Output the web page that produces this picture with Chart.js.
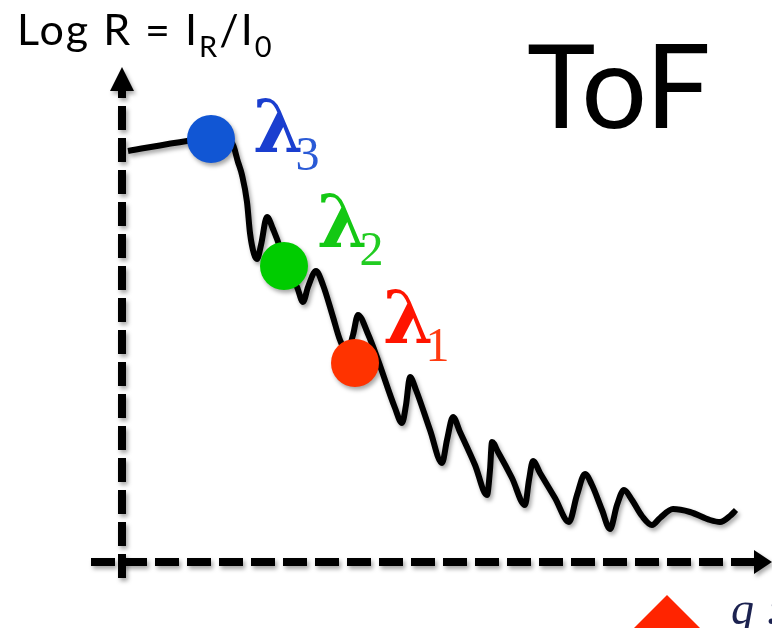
<!DOCTYPE html>
<html>
<head>
<meta charset="utf-8">
<script src="https://cdn.jsdelivr.net/npm/chart.js@4/dist/chart.umd.min.js"></script>
<style>
  html, body { margin: 0; padding: 0; background: #ffffff; }
  #wrap { width: 772px; height: 628px; position: relative; }
  canvas { display: block; }
</style>
</head>
<body>
<div id="wrap"><canvas id="c" width="772" height="628"></canvas></div>
<script>
// Reflectivity curve: momentum transfer q vs log R (arbitrary units)
const qValues = [
  0.06, 0.65, 0.89, 1.10, 1.16, 1.20, 1.25, 1.28, 1.32, 1.35,
  1.39, 1.45, 1.51, 1.58, 1.62, 1.75, 1.81, 1.86, 1.94, 2.01,
  2.11, 2.18, 2.25, 2.31, 2.36, 2.46, 2.56, 2.73, 2.80, 2.84,
  2.88, 2.94, 3.08, 3.20, 3.25, 3.31, 3.38, 3.53, 3.65, 3.68,
  3.70, 3.76, 3.90, 4.03, 4.07, 4.11, 4.18, 4.33, 4.47, 4.55,
  4.63, 4.70, 4.80, 4.88, 4.95, 5.02, 5.10, 5.20, 5.30, 5.38,
  5.51, 5.68, 5.88, 5.98, 6.08, 6.14
];
const logR = [
  4.11, 4.21, 4.24, 4.19, 4.00, 3.87, 3.60, 3.29, 3.08, 3.03,
  3.17, 3.45, 3.33, 3.14, 2.96, 2.75, 2.60, 2.75, 2.91, 2.77,
  2.45, 2.22, 2.10, 2.27, 2.47, 2.28, 2.02, 1.54, 1.39, 1.57,
  1.85, 1.72, 1.32, 0.99, 1.22, 1.45, 1.30, 0.97, 0.67, 0.92,
  1.20, 1.10, 0.84, 0.57, 0.82, 1.01, 0.89, 0.64, 0.40, 0.67,
  0.88, 0.77, 0.52, 0.33, 0.57, 0.72, 0.62, 0.46, 0.37, 0.44,
  0.53, 0.50, 0.42, 0.40, 0.46, 0.52
];

// Wavelength markers on the curve
const markerNames = ['λ3', 'λ2', 'λ1'];
const markerSub = ['3', '2', '1'];
const markerQ = [0.89, 1.62, 2.33];
const markerLogR = [4.23, 2.96, 1.99];

const yAxisTitle = 'Log R = I_R/I_0';
const modeTitle = 'ToF';
const xAxisTitle = 'q :';

const curvePoints = qValues.map((q, i) => ({ x: q, y: logR[i] }));
const markerPoints = markerQ.map((q, i) => ({ x: q, y: markerLogR[i] }));

const dotColors = ['#1156d4', '#00cc00', '#ff3300'];
const labelColors = ['#1a3ecf', '#14c814', '#ff1400'];
const subColors = ['#2a5ad6', '#22cc22', '#ff3a10'];
// label placement relative to each marker (pixels)
const labelOffsets = [[42, 13], [33, -19], [28, -20]];

function dashedArrow(ctx, x0, y0, x1, y1, head) {
  ctx.save();
  ctx.strokeStyle = '#000';
  ctx.fillStyle = '#000';
  ctx.lineWidth = 8;
  ctx.lineCap = 'butt';
  ctx.setLineDash([24, 8]);
  const dx = x1 - x0, dy = y1 - y0;
  const len = Math.hypot(dx, dy);
  const ux = dx / len, uy = dy / len;
  ctx.beginPath();
  ctx.moveTo(x0, y0);
  ctx.lineTo(x1 - ux * head, y1 - uy * head);
  ctx.stroke();
  ctx.setLineDash([]);
  const bx = x1 - ux * (head + 1), by = y1 - uy * (head + 1);
  const px = -uy, py = ux;
  ctx.beginPath();
  ctx.moveTo(x1, y1);
  ctx.lineTo(bx + px * 12, by + py * 12);
  ctx.lineTo(bx - px * 12, by - py * 12);
  ctx.closePath();
  ctx.fill();
  ctx.restore();
}

function setShadow(ctx) {
  ctx.shadowColor = 'rgba(0,0,0,0.35)';
  ctx.shadowBlur = 4;
  ctx.shadowOffsetX = 2;
  ctx.shadowOffsetY = 3;
}

const schematic = {
  id: 'schematic',
  beforeDatasetsDraw(chart) {
    const ctx = chart.ctx;
    const xs = chart.scales.x, ys = chart.scales.y;
    const ox = xs.getPixelForValue(0);
    const oy = ys.getPixelForValue(0);
    ctx.save();
    setShadow(ctx);
    // vertical axis (log R)
    dashedArrow(ctx, ox, oy + 16, ox, 67, 23);
    // horizontal axis (q)
    dashedArrow(ctx, ox - 31, oy, chart.width, oy, 17);
    ctx.restore();
  },
  beforeDatasetDraw(chart) {
    chart.ctx.save();
    setShadow(chart.ctx);
  },
  afterDatasetDraw(chart) {
    chart.ctx.restore();
  },
  afterDatasetsDraw(chart) {
    const ctx = chart.ctx;
    const xs = chart.scales.x, ys = chart.scales.y;
    ctx.save();
    ctx.textBaseline = 'alphabetic';
    ctx.textAlign = 'left';

    // wavelength labels
    markerPoints.forEach((p, i) => {
      const px = xs.getPixelForValue(p.x) + labelOffsets[i][0];
      const py = ys.getPixelForValue(p.y) + labelOffsets[i][1];
      ctx.fillStyle = labelColors[i];
      ctx.font = 'bold 72px "DejaVu Serif"';
      ctx.fillText(markerNames[i].charAt(0), px, py);
      const w = ctx.measureText(markerNames[i].charAt(0)).width;
      ctx.fillStyle = subColors[i];
      ctx.font = '48px "Liberation Serif"';
      ctx.fillText(markerSub[i], px + w - 8, py + 18);
    });

    // y-axis title with subscripts
    ctx.fillStyle = '#000';
    ctx.letterSpacing = '2px';
    const parts = yAxisTitle.split(/(_[A-Za-z0-9])/).filter(s => s.length);
    let x = 17;
    parts.forEach(s => {
      if (s.charAt(0) === '_') {
        ctx.font = '29px Lato';
        ctx.fillText(s.slice(1), x, 57);
        x += ctx.measureText(s.slice(1)).width;
      } else {
        ctx.font = '43px Lato';
        ctx.fillText(s, x, 45);
        x += ctx.measureText(s).width;
      }
    });
    ctx.letterSpacing = '0px';

    // mode title
    ctx.font = '116px Lato';
    ctx.fillText(modeTitle, 527, 128);

    // q marker triangle and label at the lower edge
    ctx.fillStyle = '#ff2400';
    ctx.beginPath();
    ctx.moveTo(667, 595);
    ctx.lineTo(707, 635);
    ctx.lineTo(627, 635);
    ctx.closePath();
    ctx.fill();
    ctx.fillStyle = '#1c2250';
    ctx.font = 'italic 46px "Liberation Serif"';
    ctx.fillText(xAxisTitle, 731, 624);
    ctx.restore();
  }
};

new Chart(document.getElementById('c'), {
  type: 'line',
  data: {
    datasets: [
      {
        data: markerPoints,
        showLine: false,
        pointRadius: 24,
        pointBorderWidth: 0,
        pointBackgroundColor: dotColors,
        pointBorderColor: dotColors,
        clip: false,
        order: 0
      },
      {
        data: curvePoints,
        borderColor: '#000',
        borderWidth: 6,
        pointRadius: 0,
        cubicInterpolationMode: 'monotone',
        fill: false,
        order: 1
      }
    ]
  },
  options: {
    responsive: false,
    animation: false,
    devicePixelRatio: 1,
    layout: { padding: 0, autoPadding: false },
    plugins: { legend: { display: false }, tooltip: { enabled: false } },
    scales: {
      x: { type: 'linear', min: -1.22, max: 6.50, display: false },
      y: { type: 'linear', min: -0.66, max: 5.62, display: false }
    }
  },
  plugins: [schematic]
});
</script>
</body>
</html>
